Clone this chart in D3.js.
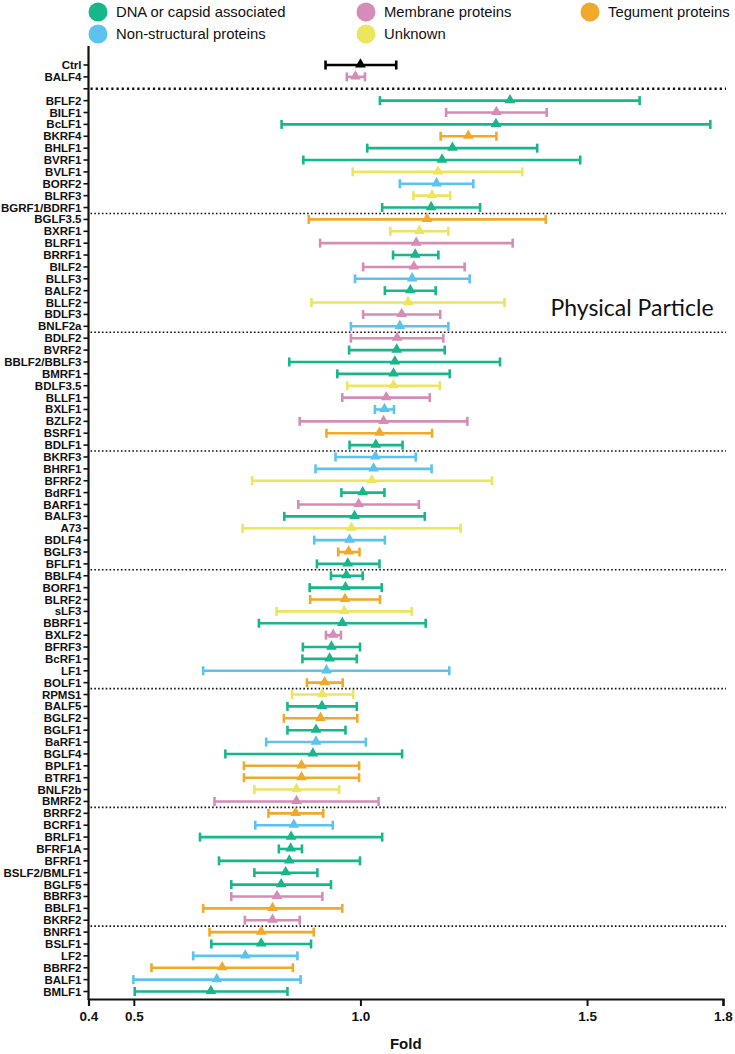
<!DOCTYPE html>
<html>
<head>
<meta charset="utf-8">
<script src="https://cdn.jsdelivr.net/npm/d3@7"></script>
<style>
  html, body { margin: 0; padding: 0; background: #fff; }
  svg { display: block; font-family: "Liberation Sans", Arial, sans-serif; }
</style>
</head>
<body>
<div id="chart"></div>
<script>
// Fold change (mean with range) per EBV protein, physical particle assay

// row labels top to bottom; "" marks the spacer slot under BALF4
const genes = [
  "Ctrl", "BALF4", "",
  "BFLF2", "BILF1", "BcLF1", "BKRF4", "BHLF1", "BVRF1", "BVLF1", "BORF2", "BLRF3", "BGRF1/BDRF1",
  "BGLF3.5", "BXRF1", "BLRF1", "BRRF1", "BILF2", "BLLF3", "BALF2", "BLLF2", "BDLF3", "BNLF2a",
  "BDLF2", "BVRF2", "BBLF2/BBLF3", "BMRF1", "BDLF3.5", "BLLF1", "BXLF1", "BZLF2", "BSRF1", "BDLF1",
  "BKRF3", "BHRF1", "BFRF2", "BdRF1", "BARF1", "BALF3", "A73", "BDLF4", "BGLF3", "BFLF1",
  "BBLF4", "BORF1", "BLRF2", "sLF3", "BBRF1", "BXLF2", "BFRF3", "BcRF1", "LF1", "BOLF1",
  "RPMS1", "BALF5", "BGLF2", "BGLF1", "BaRF1", "BGLF4", "BPLF1", "BTRF1", "BNLF2b", "BMRF2",
  "BRRF2", "BCRF1", "BRLF1", "BFRF1A", "BFRF1", "BSLF2/BMLF1", "BGLF5", "BBRF3", "BBLF1", "BKRF2",
  "BNRF1", "BSLF1", "LF2", "BBRF2", "BALF1", "BMLF1"
];

// category per row (c=ctrl, d=DNA/capsid, m=membrane, t=tegument, n=non-structural, u=unknown)
const groups = [
  "c", "m", "",
  "d", "m", "d", "t", "d", "d", "u", "n", "u", "d",
  "t", "u", "m", "d", "m", "n", "d", "u", "m", "n",
  "m", "d", "d", "d", "u", "m", "n", "m", "t", "d",
  "n", "n", "u", "d", "m", "d", "u", "n", "t", "d",
  "d", "d", "t", "u", "d", "m", "d", "d", "n", "t",
  "u", "d", "t", "d", "n", "d", "t", "t", "u", "m",
  "t", "n", "d", "d", "d", "d", "d", "m", "t", "m",
  "t", "d", "n", "t", "n", "d"
];

const means = [
  1.000, 0.989, null,
  1.330, 1.300, 1.299, 1.238, 1.203, 1.180, 1.171, 1.168, 1.158, 1.156,
  1.147, 1.130, 1.123, 1.121, 1.118, 1.114, 1.110, 1.105, 1.091, 1.087,
  1.081, 1.080, 1.076, 1.073, 1.073, 1.057, 1.053, 1.051, 1.042, 1.034,
  1.033, 1.029, 1.025, 1.005, 0.996, 0.987, 0.980, 0.976, 0.974, 0.972,
  0.969, 0.967, 0.966, 0.964, 0.960, 0.940, 0.936, 0.932, 0.925, 0.921,
  0.916, 0.915, 0.912, 0.902, 0.902, 0.895, 0.870, 0.870, 0.859, 0.859,
  0.857, 0.853, 0.847, 0.846, 0.843, 0.835, 0.825, 0.816, 0.806, 0.806,
  0.781, 0.781, 0.746, 0.695, 0.683, 0.670
];

const lows = [
  0.923, 0.970, null,
  1.043, 1.189, 0.826, 1.177, 1.015, 0.874, 0.983, 1.087, 1.117, 1.048,
  0.886, 1.066, 0.911, 1.072, 1.006, 0.988, 1.054, 0.892, 1.006, 0.979,
  0.979, 0.975, 0.843, 0.949, 0.971, 0.960, 1.032, 0.866, 0.925, 0.976,
  0.945, 0.901, 0.761, 0.958, 0.863, 0.832, 0.740, 0.898, 0.951, 0.904,
  0.935, 0.888, 0.889, 0.815, 0.776, 0.924, 0.873, 0.872, 0.653, 0.882,
  0.849, 0.839, 0.831, 0.839, 0.792, 0.702, 0.743, 0.743, 0.766, 0.678,
  0.797, 0.768, 0.646, 0.820, 0.688, 0.766, 0.715, 0.715, 0.653, 0.745,
  0.667, 0.671, 0.631, 0.539, 0.499, 0.502
];

const highs = [
  1.079, 1.010, null,
  1.616, 1.411, 1.772, 1.300, 1.390, 1.485, 1.357, 1.249, 1.198, 1.264,
  1.409, 1.194, 1.336, 1.172, 1.230, 1.241, 1.166, 1.318, 1.176, 1.194,
  1.183, 1.186, 1.308, 1.197, 1.175, 1.153, 1.074, 1.236, 1.158, 1.093,
  1.122, 1.157, 1.290, 1.053, 1.129, 1.142, 1.221, 1.054, 0.998, 1.042,
  1.005, 1.047, 1.043, 1.113, 1.144, 0.957, 0.999, 0.992, 1.196, 0.961,
  0.984, 0.992, 0.993, 0.967, 1.012, 1.092, 0.997, 0.997, 0.953, 1.040,
  0.918, 0.939, 1.048, 0.871, 0.999, 0.905, 0.935, 0.916, 0.960, 0.866,
  0.897, 0.891, 0.861, 0.851, 0.868, 0.839
];

// separators drawn after these rows
const dividersAfter = ["BALF4", "BGRF1/BDRF1", "BNLF2a", "BDLF1", "BFLF1", "BOLF1", "BMRF2", "BKRF2"];

const xTicks = [0.4, 0.5, 1.0, 1.5, 1.8];

const legendItems = [
  { key: "d", label: "DNA or capsid associated" },
  { key: "m", label: "Membrane proteins" },
  { key: "t", label: "Tegument proteins" },
  { key: "n", label: "Non-structural proteins" },
  { key: "u", label: "Unknown" }
];

const colors = {
  c: "#000000",
  d: "#17b68b",
  m: "#d58db8",
  t: "#f0a92b",
  n: "#5cc3ef",
  u: "#ece55f"
};

const W = 735, H = 1054;
const left = 88.5, right = 723, axisTop = 46, axisBottom = 999;

const svg = d3.select("#chart").append("svg")
  .attr("width", W)
  .attr("height", H);

const x = d3.scaleLinear().domain([0.4, 1.8]).range([left, right]);
const y = d3.scalePoint().domain(genes.map((g, i) => i)).range([65, 991.5]);

const rows = genes.map((g, i) => ({
  gene: g, group: groups[i], mean: means[i], lo: lows[i], hi: highs[i], i
})).filter(d => d.gene !== "");

// legend
const legPos = [[98, 12], [366, 12], [590, 12], [98, 34], [366, 34]];
const leg = svg.append("g");
legendItems.forEach((it, k) => {
  const [lx, ly] = legPos[k];
  leg.append("circle").attr("cx", lx).attr("cy", ly).attr("r", 9.5).attr("fill", colors[it.key]);
  leg.append("text").attr("x", lx + 18).attr("y", ly).attr("dy", "0.35em")
    .attr("font-size", 14.8).attr("fill", "#111").text(it.label);
});

// dotted separators
dividersAfter.forEach((g, k) => {
  const i = genes.indexOf(g);
  const yy = k === 0 ? y(i + 1) : (y(i) + y(i + 1)) / 2;
  svg.append("line")
    .attr("x1", left + 2).attr("x2", right + 3)
    .attr("y1", yy).attr("y2", yy)
    .attr("stroke", "#111")
    .attr("stroke-width", k === 0 ? 2.4 : 1.6)
    .attr("stroke-dasharray", k === 0 ? "2.2,3" : "1.6,2.2");
});

// error bars
const bars = svg.append("g").selectAll("g")
  .data(rows)
  .join("g")
    .attr("stroke", d => colors[d.group])
    .attr("fill", d => colors[d.group]);

bars.append("line")
  .attr("x1", d => x(d.lo)).attr("x2", d => x(d.hi))
  .attr("y1", d => y(d.i)).attr("y2", d => y(d.i))
  .attr("stroke-width", 2.6);

bars.append("line")
  .attr("x1", d => x(d.lo)).attr("x2", d => x(d.lo))
  .attr("y1", d => y(d.i) - 4.5).attr("y2", d => y(d.i) + 4.5)
  .attr("stroke-width", 2.6);

bars.append("line")
  .attr("x1", d => x(d.hi)).attr("x2", d => x(d.hi))
  .attr("y1", d => y(d.i) - 4.5).attr("y2", d => y(d.i) + 4.5)
  .attr("stroke-width", 2.6);

bars.append("path")
  .attr("d", d3.symbol().type(d3.symbolTriangle).size(50))
  .attr("transform", d => `translate(${x(d.mean)},${y(d.i) - 0.5})`)
  .attr("stroke", "none");

// y axis
const yAxis = svg.append("g");
yAxis.append("line")
  .attr("x1", left).attr("x2", left)
  .attr("y1", axisTop).attr("y2", axisBottom + 1)
  .attr("stroke", "#111").attr("stroke-width", 2.2);
yAxis.selectAll(".tk")
  .data(genes.map((g, i) => i))
  .join("line")
    .attr("x1", left - 5).attr("x2", left)
    .attr("y1", i => y(i)).attr("y2", i => y(i))
    .attr("stroke", "#111").attr("stroke-width", 1.6);
yAxis.selectAll("text")
  .data(rows)
  .join("text")
    .attr("x", left - 7)
    .attr("y", d => y(d.i))
    .attr("dy", "0.35em")
    .attr("text-anchor", "end")
    .attr("font-size", 11.5)
    .attr("font-weight", "bold")
    .attr("fill", "#111")
    .text(d => d.gene);

// x axis
const xAxis = svg.append("g").attr("transform", `translate(0,${axisBottom})`)
  .call(d3.axisBottom(x).tickValues(xTicks).tickFormat(d3.format(".1f")).tickSize(7).tickPadding(5));
xAxis.select(".domain").attr("stroke", "#111").attr("stroke-width", 2.2);
xAxis.selectAll(".tick line").attr("stroke", "#111").attr("stroke-width", 2);
xAxis.selectAll(".tick text")
  .attr("font-family", "\"Liberation Sans\", Arial, sans-serif")
  .attr("font-size", 13.5)
  .attr("font-weight", "bold")
  .attr("fill", "#111");

svg.append("text")
  .attr("x", (left + right) / 2)
  .attr("y", 1044)
  .attr("dy", "0.35em")
  .attr("text-anchor", "middle")
  .attr("font-size", 15)
  .attr("font-weight", "bold")
  .attr("fill", "#111")
  .text("Fold");

svg.append("text")
  .attr("x", 632)
  .attr("y", 308)
  .attr("dy", "0.35em")
  .attr("text-anchor", "middle")
  .attr("font-family", "Lato, \"Open Sans\", sans-serif")
  .attr("font-size", 23)
  .attr("fill", "#111")
  .text("Physical Particle");
</script>
</body>
</html>
